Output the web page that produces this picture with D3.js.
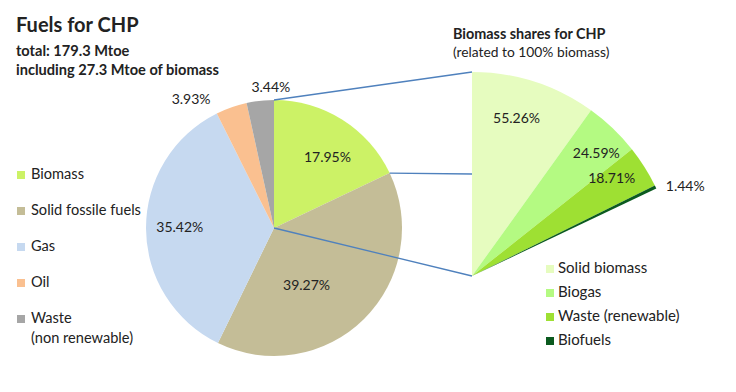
<!DOCTYPE html>
<html>
<head>
<meta charset="utf-8">
<script src="https://cdn.jsdelivr.net/npm/d3@7"></script>
<style>
  body { margin: 0; background: #fff; }
  text { font-family: Lato, "Open Sans", sans-serif; fill: #222; }
</style>
</head>
<body>
<div id="chart"></div>
<script>
// main pie data
const fuels = ["Biomass", "Solid fossile fuels", "Gas", "Oil", "Waste"];
const fuelShares = [17.95, 39.27, 35.42, 3.93, 3.44];
const fuelColors = ["#ccf266", "#c4bd97", "#c6d9f0", "#fac090", "#a6a6a6"];
const fuelLegend = ["Biomass", "Solid fossile fuels", "Gas", "Oil", "Waste|(non renewable)"];

// biomass breakdown
const bioTypes = ["Solid biomass", "Biogas", "Waste (renewable)", "Biofuels"];
const bioShares = [55.26, 24.59, 18.71, 1.44];
const bioColors = ["#e6fcbf", "#b4fa82", "#9ee033", "#0b5a1f"];

const w = 736, h = 392;

const svg = d3.select("#chart").append("svg")
  .attr("width", w).attr("height", h);

// big pie
const cx = 274, cy = 228, R = 128;
const pie = d3.pie().sort(null).value(d => d);
const arcs = pie(fuelShares);
const arc = d3.arc().innerRadius(0).outerRadius(R);

const g = svg.append("g").attr("transform", `translate(${cx},${cy})`);
g.selectAll("path").data(arcs).enter().append("path")
  .attr("d", arc)
  .attr("fill", (d, i) => fuelColors[i]);

// label tweaks, roughly where excel puts them
const mainLab = [
  {r: 0.65, dx: 9, dy: -1},
  {r: 0.65, dx: -26, dy: -2},
  {r: 0.65, dx: -11, dy: -1},
  {r: 1.1, dx: -36, dy: 4},
  {r: 1.1, dx: 12, dy: -1}
];
g.selectAll("text.lab").data(arcs).enter().append("text")
  .attr("class", "lab")
  .attr("text-anchor", "middle")
  .attr("dy", "0.35em")
  .style("font-size", "14px")
  .attr("x", (d, i) => d3.arc().innerRadius(R * mainLab[i].r).outerRadius(R * mainLab[i].r).centroid(d)[0] + mainLab[i].dx)
  .attr("y", (d, i) => d3.arc().innerRadius(R * mainLab[i].r).outerRadius(R * mainLab[i].r).centroid(d)[1] + mainLab[i].dy)
  .text(d => d.value.toFixed(2) + "%");

// exploded biomass sector
const bx = 472, by = 276, R2 = 204;
const bioEnd = arcs[0].endAngle;
const pie2 = d3.pie().sort(null).value(d => d).startAngle(0).endAngle(bioEnd);
const arcs2 = pie2(bioShares);
const arc2 = d3.arc().innerRadius(0).outerRadius(R2);

// connector lines
const topPt = [cx, cy - R];
const endPt = [cx + R * Math.sin(bioEnd), cy - R * Math.cos(bioEnd)];
const lines = [
  [topPt, [bx, by - R2]],
  [endPt, [bx, by - R2 / 2]],
  [[cx, cy], [bx, by]]
];
svg.selectAll("line.conn").data(lines).enter().append("line")
  .attr("class", "conn")
  .attr("x1", d => d[0][0]).attr("y1", d => d[0][1])
  .attr("x2", d => d[1][0]).attr("y2", d => d[1][1])
  .attr("stroke", "#4f81bd").attr("stroke-width", 1.3);

const g2 = svg.append("g").attr("transform", `translate(${bx},${by})`);
g2.selectAll("path").data(arcs2).enter().append("path")
  .attr("d", arc2)
  .attr("fill", (d, i) => bioColors[i]);

const bioLab = [
  {r: 0.84, dx: -8, dy: 5},
  {r: 0.84, dx: 6, dy: 1},
  {r: 0.84, dx: -5, dy: -6},
  {r: 1.08, dx: 15, dy: 6}
];
g2.selectAll("text.lab").data(arcs2).enter().append("text")
  .attr("class", "lab")
  .attr("text-anchor", "middle")
  .attr("dy", "0.35em")
  .style("font-size", "14px")
  .attr("x", (d, i) => d3.arc().innerRadius(R2 * bioLab[i].r).outerRadius(R2 * bioLab[i].r).centroid(d)[0] + bioLab[i].dx)
  .attr("y", (d, i) => d3.arc().innerRadius(R2 * bioLab[i].r).outerRadius(R2 * bioLab[i].r).centroid(d)[1] + bioLab[i].dy)
  .text(d => d.value.toFixed(2) + "%");

// titles
svg.append("text").attr("x", 16).attr("y", 32)
  .style("font-size", "20px").style("font-weight", "bold")
  .text("Fuels for CHP");
svg.append("text").attr("x", 16).attr("y", 56)
  .style("font-size", "14.6px").style("font-weight", "bold")
  .text("total: 179.3 Mtoe");
svg.append("text").attr("x", 16).attr("y", 75)
  .style("font-size", "14.6px").style("font-weight", "bold")
  .text("including 27.3 Mtoe of biomass");
svg.append("text").attr("x", 453).attr("y", 39)
  .style("font-size", "14.4px").style("font-weight", "bold")
  .text("Biomass shares for CHP");
svg.append("text").attr("x", 453).attr("y", 57)
  .style("font-size", "13.8px")
  .text("(related to 100% biomass)");

// left legend
const leg = svg.selectAll("g.leg").data(fuelLegend).enter().append("g")
  .attr("class", "leg")
  .attr("transform", (d, i) => `translate(17,${179 + i * 36})`);
leg.append("rect").attr("x", 0).attr("y", -8).attr("width", 8).attr("height", 8)
  .attr("fill", (d, i) => fuelColors[i]);
leg.append("text").attr("x", 14).style("font-size", "14.6px")
  .selectAll("tspan").data(d => d.split("|")).enter().append("tspan")
  .attr("x", 14).attr("dy", (d, i) => i ? 20 : 0)
  .text(d => d);

// right legend
const leg2 = svg.selectAll("g.leg2").data(bioTypes).enter().append("g")
  .attr("class", "leg2")
  .attr("transform", (d, i) => `translate(546,${273 + i * 24})`);
leg2.append("rect").attr("x", 0).attr("y", -8).attr("width", 8).attr("height", 8)
  .attr("fill", (d, i) => bioColors[i]);
leg2.append("text").attr("x", 12).style("font-size", "15px").text(d => d);
</script>
</body>
</html>
